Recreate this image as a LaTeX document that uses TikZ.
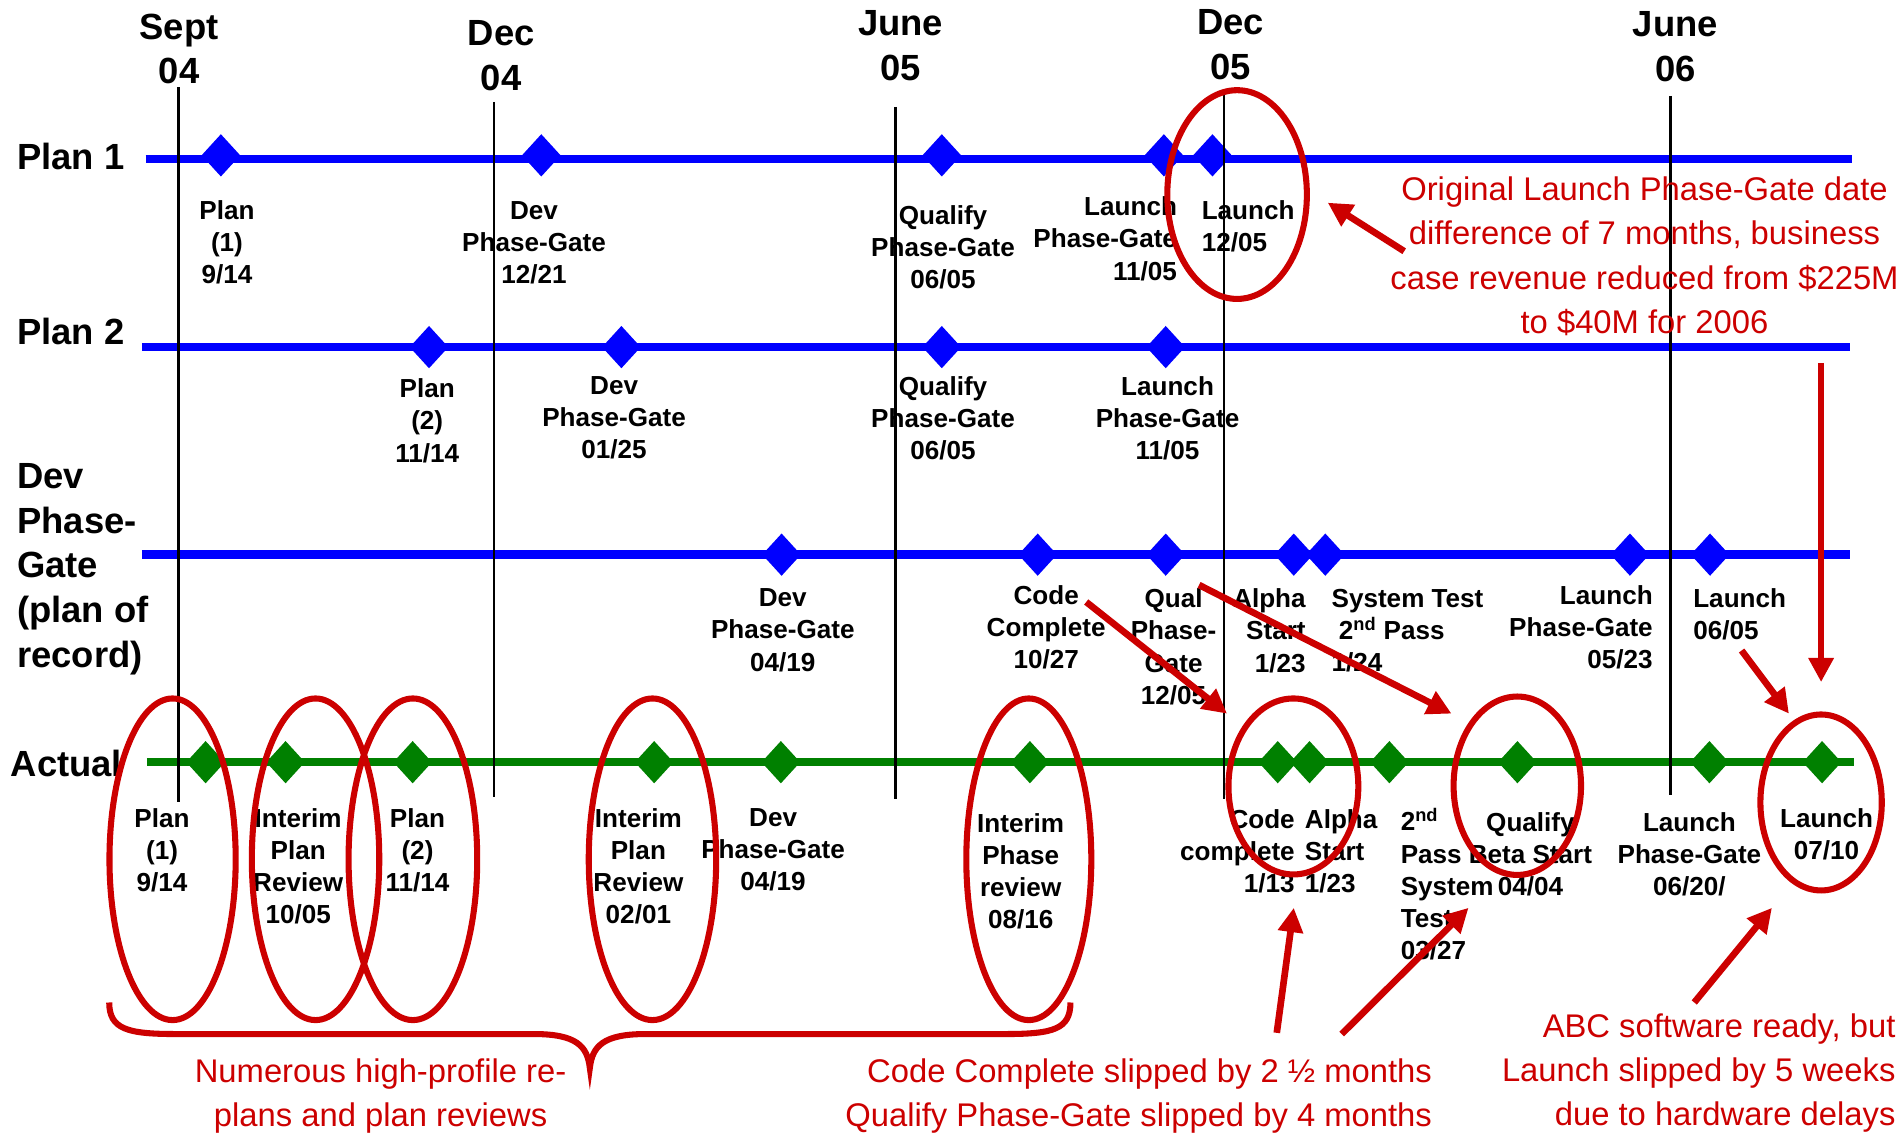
\documentclass[tikz,border=0pt]{standalone}
\usepackage{fontspec}
\setmainfont{Liberation Sans}
\usetikzlibrary{shapes.geometric,arrows.meta}
\definecolor{gateblue}{RGB}{0,0,255}
\definecolor{gategreen}{RGB}{0,128,0}
\definecolor{markred}{RGB}{204,0,0}

\begin{document}
\begin{tikzpicture}[x=1pt, y=-1pt,
    track/.style ={line width=7pt},
    plangate/.style ={diamond, fill=gateblue, minimum width=32pt, minimum height=35pt, inner sep=0pt},
    actualgate/.style ={plangate, fill=gategreen},
    month/.style ={draw, line width=1.8pt},
    rowname/.style ={font=\fontsize{30}{36.8}\selectfont\bfseries, inner sep=0pt, anchor=north west, align=left},
    datename/.style ={font=\fontsize{30}{37}\selectfont\bfseries, inner sep=0pt, anchor=north, align=center},
    gatename/.style ={font=\fontsize{21.5}{26.5}\selectfont\bfseries, inner sep=0pt, anchor=north, align=center},
    remark/.style ={font=\fontsize{27}{36.5}\selectfont, text=markred, inner sep=0pt, anchor=north, align=center},
    ring/.style ={ellipse, draw=markred, line width=5pt, inner sep=0pt},
    slip/.style ={draw=markred, line width=5.5pt, -{Triangle[length=20pt, width=20pt]}}]
   \useasboundingbox (0,0) rectangle (1568,937);

   % time lines
   \coordinate (P1s) at (120,131);  \coordinate (P1e) at (1526,131);
   \coordinate (P2s) at (117,286);  \coordinate (P2e) at (1524,286);
   \coordinate (DVs) at (117,457);  \coordinate (DVe) at (1524,457);
   \coordinate (ACs) at (121,628);  \coordinate (ACe) at (1528,628);
   \draw[track, gateblue] (P1s) -- (P1e);
   \draw[track, gateblue] (P2s) -- (P2e);
   \draw[track, gateblue] (DVs) -- (DVe);
   \draw[track, gategreen] (ACs) -- (ACe);

   % row names
   \node[rowname] (plan1)  at (14,117.7) {Plan 1};
   \node[rowname] (plan2)  at (14,262)   {Plan 2};
   \node[rowname] (devrow) at (14,381.8) {Dev\\Phase-\\Gate\\(plan of\\record)};
   \node[rowname] (actual) at (8.7,618)  {Actual};

   % month names
   \node[datename] (sep04) at (147.5,11)  {Sept\\04};
   \node[datename] (dec04) at (413,17)    {Dec\\04};
   \node[datename] (jun05) at (742,8.2)   {June\\05};
   \node[datename] (dec05) at (1014,7.7)  {Dec\\05};
   \node[datename] (jun06) at (1380.5,9.6) {June\\06};

   % Plan 1
   \node[plangate] (A1) at (182,128) {};
   \node[plangate] (A2) at (446,128) {};
   \node[plangate] (A3) at (776,128) {};
   \node[plangate] (A4) at (959,128) {};
   \node[plangate] (A5) at (999,128) {};
   \node[gatename] (a1) at (187,165) {Plan\\(1)\\9/14};
   \node[gatename] (a2) at (440,166) {Dev\\Phase-Gate\\12/21};
   \node[gatename] (a3) at (777,169) {Qualify\\Phase-Gate\\06/05};
   \node[gatename, anchor=north east, align=right] (a4) at (970,162) {Launch\\Phase-Gate\\11/05};
   \node[gatename, anchor=north west, align=left] (a5) at (990,165) {Launch\\12/05};

   % Plan 2
   \node[plangate] (B1) at (353.5,286) {};
   \node[plangate] (B2) at (512,286) {};
   \node[plangate] (B3) at (776,286) {};
   \node[plangate] (B4) at (960.5,286) {};
   \node[gatename] (b1) at (352,312) {Plan\\(2)\\11/14};
   \node[gatename] (b2) at (506,310) {Dev\\Phase-Gate\\01/25};
   \node[gatename] (b3) at (777,310) {Qualify\\Phase-Gate\\06/05};
   \node[gatename] (b4) at (962,310) {Launch\\Phase-Gate\\11/05};

   % Dev Phase-Gate (plan of record)
   \node[plangate] (C1) at (644,457) {};
   \node[plangate] (C2) at (855,457) {};
   \node[plangate] (C3) at (960.5,457) {};
   \node[plangate] (C4) at (1066,457) {};
   \node[plangate] (C5) at (1092,457) {};
   \node[plangate] (C6) at (1343,457) {};
   \node[plangate] (C7) at (1409,457) {};
   \node[gatename] (c1) at (645,485) {Dev\\Phase-Gate\\04/19};
   \node[gatename] (c2) at (862,482) {Code\\Complete\\10/27};
   \node[gatename] (c3) at (967,485) {Qual\\Phase-\\Gate\\12/05};
   \node[gatename, anchor=north east, align=right] (c4) at (1076,485) {Alpha\\Start\\1/23};
   \node[gatename, anchor=north west, align=left] (c5) at (1097,485) {System Test\\\hspace{6pt}2\textsuperscript{nd} Pass\\1/24};
   \node[gatename, anchor=north east, align=right] (c6) at (1362,482) {Launch\\Phase-Gate\\05/23};
   \node[gatename, anchor=north west, align=left] (c7) at (1395,485) {Launch\\06/05};

   % Actual
   \node[actualgate] (D1) at (169.4,628) {};
   \node[actualgate] (D2) at (235.3,628) {};
   \node[actualgate] (D3) at (340,628) {};
   \node[actualgate] (D4) at (539,628) {};
   \node[actualgate] (D5) at (643.4,628) {};
   \node[actualgate] (D6) at (848.6,628) {};
   \node[actualgate] (D7) at (1052.8,628) {};
   \node[actualgate] (D8) at (1079,628) {};
   \node[actualgate] (D9) at (1144.8,628) {};
   \node[actualgate] (D10) at (1250.3,628) {};
   \node[actualgate] (D11) at (1408.5,628) {};
   \node[actualgate] (D12) at (1501.3,628) {};
   \node[gatename] (d1) at (133.5,666) {Plan\\(1)\\9/14};
   \node[gatename] (d2) at (245.7,666) {Interim\\Plan\\Review\\10/05};
   \node[gatename] (d3) at (344,666) {Plan\\(2)\\11/14};
   \node[gatename] (d4) at (526,666) {Interim\\Plan\\Review\\02/01};
   \node[gatename] (d5) at (637,666) {Dev\\Phase-Gate\\04/19};
   \node[gatename] (d6) at (841,670) {Interim\\Phase\\review\\08/16};
   \node[gatename, anchor=north east, align=right] (d7) at (1067,667) {Code\\complete\\1/13};
   \node[gatename, anchor=north west, align=left] (d8) at (1075,667) {Alpha\\Start\\1/23};
   \node[gatename, anchor=north west, align=left] (d9) at (1154,666) {2\textsuperscript{nd}\\Pass\\System\\Test\\03/27};
   \node[gatename] (d10) at (1261,669) {Qualify\\Beta Start\\04/04};
   \node[gatename] (d11) at (1392,669) {Launch\\Phase-Gate\\06/20/};
   \node[gatename] (d12) at (1505,666) {Launch\\07/10};

   % month lines
   \coordinate (S1t) at (147.1,72);   \coordinate (S1b) at (147.1,660.5);
   \coordinate (S2t) at (407.2,84);   \coordinate (S2b) at (407.2,657);
   \coordinate (S3t) at (737.9,88);   \coordinate (S3b) at (737.9,658);
   \coordinate (S4t) at (1008.5,75.5); \coordinate (S4b) at (1008.5,658);
   \coordinate (S5t) at (1376.4,79);  \coordinate (S5b) at (1376.4,655);
   \draw[month] (S1t) -- (S1b);
   \draw[month] (S2t) -- (S2b);
   \draw[month] (S3t) -- (S3b);
   \draw[month] (S4t) -- (S4b);
   \draw[month] (S5t) -- (S5b);

   % rings
   \node[ring, minimum width=115pt, minimum height=172pt] (R0) at (1019.3,160.3) {};
   \node[ring, minimum width=104pt, minimum height=265pt] (R1) at (142.2,708) {};
   \node[ring, minimum width=105pt, minimum height=265pt] (R2) at (260,708) {};
   \node[ring, minimum width=106pt, minimum height=265pt] (R3) at (340.2,708) {};
   \node[ring, minimum width=105pt, minimum height=265pt] (R4) at (537.6,708) {};
   \node[ring, minimum width=103pt, minimum height=265pt] (R5) at (847.7,708) {};
   \node[ring, minimum width=107pt, minimum height=145pt] (R6) at (1065.7,648) {};
   \node[ring, minimum width=105pt, minimum height=147pt] (R7) at (1250.2,647.4) {};
   \node[ring, minimum width=100pt, minimum height=145pt] (R8) at (1500.5,661.2) {};

   % brace
   \draw[markred, line width=5pt] (90,826) .. controls (90,848) and (105,852) .. (145,852)
      -- (440,852) .. controls (475,852) and (484,862) .. (486,880)
      .. controls (488,862) and (497,852) .. (532,852)
      -- (828,852) .. controls (868,852) and (882,848) .. (882,826);

   % remarks
   \node[remark] (n1) at (1355,145.6) {Original Launch Phase-Gate date\\difference of 7 months, business\\case revenue reduced from \$225M\\to \$40M for 2006};
   \node[remark] (n2) at (313.6,872) {Numerous high-profile re-\\plans and plan reviews};
   \node[remark, anchor=north east, align=right] (n3) at (1180,872) {Code Complete slipped by 2 ½ months\\Qualify Phase-Gate slipped by 4 months};
   \node[remark, anchor=north east, align=right] (n4) at (1562,835) {ABC software ready, but\\Launch slipped by 5 weeks\\due to hardware delays};

   % slip arrows
   \coordinate (T1s) at (1157,207);   \coordinate (T1e) at (1094,167);
   \coordinate (T2s) at (1500.5,299); \coordinate (T2e) at (1500.5,562);
   \coordinate (T3s) at (895,496);    \coordinate (T3e) at (1011,588);
   \coordinate (T4s) at (988,482);    \coordinate (T4e) at (1196,588);
   \coordinate (T5s) at (1435,536);   \coordinate (T5e) at (1474,588);
   \coordinate (T6s) at (1052,851);   \coordinate (T6e) at (1066,748);
   \coordinate (T7s) at (1105.5,852); \coordinate (T7e) at (1210,748);
   \coordinate (T8s) at (1396,826);   \coordinate (T8e) at (1460,748);
   \draw[slip] (T1s) -- (T1e);
   \draw[slip] (T2s) -- (T2e);
   \draw[slip] (T3s) -- (T3e);
   \draw[slip] (T4s) -- (T4e);
   \draw[slip] (T5s) -- (T5e);
   \draw[slip] (T6s) -- (T6e);
   \draw[slip] (T7s) -- (T7e);
   \draw[slip] (T8s) -- (T8e);
 \end{tikzpicture}
\end{document}
